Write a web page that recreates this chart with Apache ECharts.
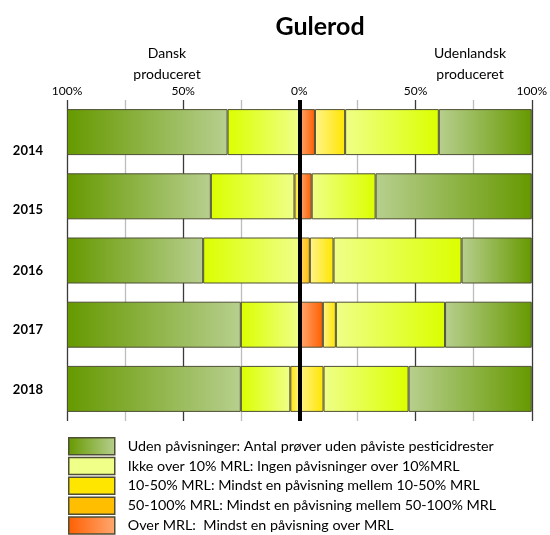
<!DOCTYPE html>
<html>
<head>
<meta charset="utf-8">
<script src="https://cdn.jsdelivr.net/npm/echarts@6/dist/echarts.min.js"></script>
<style>
  html, body { margin: 0; padding: 0; background: #fff; }
  #gulerod { width: 550px; height: 535px; }
</style>
</head>
<body>
<div id="gulerod"></div>
<script>
    var years = ['2014', '2015', '2016', '2017', '2018'];
    // label drop below the bar centre, as in the original sheet
    var yearLabelDrop = [18.6, 13.7, 10.2, 5.3, 1.1];
    var tickValues = [-100, -50, 0, 50, 100];

    var names = [
        'Uden påvisninger: Antal prøver uden påviste pesticidrester',
        'Ikke over 10% MRL: Ingen påvisninger over 10%MRL',
        '10-50% MRL: Mindst en påvisning mellem 10-50% MRL',
        '50-100% MRL: Mindst en påvisning mellem 50-100% MRL',
        'Over MRL:  Mindst en påvisning over MRL'
    ];

    // Dansk produceret (drawn to the left)
    var dkUden    = [69.1, 61.9, 58.6, 74.8, 74.8];
    var dkIkke    = [30.9, 36.0, 41.4, 25.2, 21.3];
    var dk10_50   = [0, 2.1, 0, 0, 3.9];
    var dk50_100  = [0, 0, 0, 0, 0];
    var dkOver    = [0, 0, 0, 0, 0];

    // Udenlandsk produceret (drawn to the right)
    var udUden    = [40.0, 67.2, 30.2, 37.3, 53.0];
    var udIkke    = [40.3, 27.5, 55.1, 47.0, 36.6];
    var ud10_50   = [13.0, 0, 10.2, 5.6, 10.4];
    var ud50_100  = [0, 0, 4.5, 0, 0];
    var udOver    = [6.7, 5.3, 0, 10.1, 0];

    // [outer colour, colour near 0%]
    var colors = [
        ['#669900', '#b7cf8e'],
        ['#dbff00', '#efff88'],
        ['#ffe600', '#fff38a'],
        ['#ffbf00', '#ffd873'],
        ['#ff5f00', '#ffa872']
    ];

    var chart = echarts.init(document.getElementById('gulerod'));

    function grad(c, left) {
        var stops = left
            ? [{offset: 0, color: c[0]}, {offset: 1, color: c[1]}]
            : [{offset: 0, color: c[1]}, {offset: 1, color: c[0]}];
        return new echarts.graphic.LinearGradient(0, 0, 1, 0, stops);
    }

    function barSeries(idx, values, left) {
        return {
            name: names[idx],
            type: 'bar',
            stack: 'all',
            barWidth: 46,
            silent: true,
            itemStyle: {
                color: grad(colors[idx], left),
                borderColor: '#4f4f35',
                borderWidth: 1
            },
            data: values.map(function (v) {
                if (!v) return null;
                return left ? -v : v;
            })
        };
    }

    // stack order: from 0% outwards
    var series = [
        barSeries(4, dkOver, true),
        barSeries(3, dk50_100, true),
        barSeries(2, dk10_50, true),
        barSeries(1, dkIkke, true),
        barSeries(0, dkUden, true),
        barSeries(4, udOver, false),
        barSeries(3, ud50_100, false),
        barSeries(2, ud10_50, false),
        barSeries(1, udIkke, false),
        barSeries(0, udUden, false)
    ];
    series[series.length - 1].markLine = {
        silent: true,
        symbol: ['none', 'none'],
        label: {show: false},
        lineStyle: {color: '#000', width: 4, type: 'solid'},
        data: [{xAxis: 0}]
    };

    var yearRich = {};
    years.forEach(function (y, i) {
        yearRich['y' + i] = {
            fontSize: 13,
            fontWeight: 'bold',
            color: '#000',
            padding: [2 * yearLabelDrop[i], 0, 0, 0]
        };
    });

    var option = {
        textStyle: {fontFamily: 'Lato'},
        animation: false,
        title: [
            {
                text: 'Gulerod',
                left: 315,
                top: 9,
                textAlign: 'center',
                textStyle: {fontSize: 25, fontWeight: 'bold', color: '#000'}
            },
            {
                text: 'Dansk\nproduceret',
                left: 162,
                top: 38,
                textAlign: 'center',
                textStyle: {fontSize: 14, fontWeight: 'normal', color: '#000', lineHeight: 21}
            },
            {
                text: 'Udenlandsk\nproduceret',
                left: 465,
                top: 38,
                textAlign: 'center',
                textStyle: {fontSize: 14, fontWeight: 'normal', color: '#000', lineHeight: 21}
            }
        ],
        legend: {
            orient: 'vertical',
            left: 68,
            top: 437,
            height: 140,
            padding: 0,
            itemWidth: 46,
            itemHeight: 17,
            itemGap: 1.3,
            selectedMode: false,
            icon: 'rect',
            itemStyle: {borderColor: '#4f4f35', borderWidth: 1.5},
            textStyle: {fontSize: 14.3, lineHeight: 16, color: '#000', padding: [0, 0, 0, 8]},
            data: [
                {name: names[0]},
                {name: names[1], itemStyle: {color: colors[1][1]}},
                {name: names[2], itemStyle: {color: colors[2][0]}},
                {name: names[3], itemStyle: {color: colors[3][0]}},
                {name: names[4]}
            ]
        },
        grid: {
            left: 67,
            right: 15,
            top: 100,
            bottom: 114,
            containLabel: false
        },
        xAxis: {
            type: 'value',
            position: 'top',
            min: -100,
            max: 100,
            interval: 25,
            axisLine: {show: false},
            axisTick: {show: false},
            axisLabel: {
                margin: 3,
                fontSize: 12,
                color: '#000',
                formatter: function (v) {
                    return tickValues.indexOf(v) >= 0 ? Math.abs(v) + '%' : '';
                }
            },
            splitLine: {
                show: true,
                lineStyle: {color: ['#3a3a3a', '#bdbdbd'], width: 1.3}
            }
        },
        yAxis: {
            type: 'category',
            inverse: true,
            axisLine: {show: false},
            axisTick: {show: false},
            axisLabel: {
                margin: 24,
                formatter: function (v) {
                    return '{y' + years.indexOf(v) + '|' + v + '}';
                },
                rich: yearRich
            },
            data: years
        },
        series: series
    };

    chart.setOption(option);
</script>
</body>
</html>
